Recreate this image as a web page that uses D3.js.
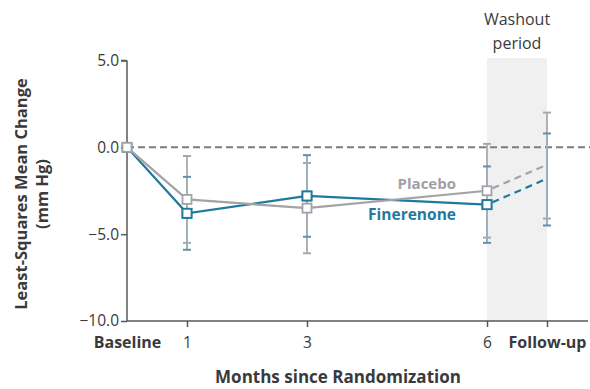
<!DOCTYPE html>
<html><head><meta charset="utf-8">
<script src="https://cdn.jsdelivr.net/npm/d3@7"></script>
<style>body{margin:0;background:#fff}svg{display:block}text{font-family:"Open Sans","Noto Sans",sans-serif}</style>
</head><body>
<script>
const xLabels = ["Baseline","1","3","6","Follow-up"];
const xValues = [0,1,3,6,7];
const yTicks = [5,0,-5,-10];
const placebo = [0,-3.0,-3.5,-2.5,-1.0];
const placeboLow = [null,-5.5,-6.1,-5.2,-4.1];
const placeboHigh = [null,-0.5,-0.9,0.2,2.0];
const finerenone = [0,-3.8,-2.8,-3.3,-1.8];
const finLow = [null,-5.9,-5.15,-5.5,-4.5];
const finHigh = [null,-1.7,-0.45,-1.1,0.8];
const washout = [6,7];

const W=590,H=389;
const svg=d3.select("body").append("svg").attr("width",W).attr("height",H);
const x=d3.scaleLinear().domain([0,7]).range([127,547]);
const y=d3.scaleLinear().domain([-10,5]).range([321,60.5]);
const grey="#a3a3a7", blue="#1f7a9e", axisC="#58585a", txt="#3a3a3c";

// washout shading
svg.append("rect").attr("x",x(washout[0])).attr("y",58).attr("width",x(washout[1])-x(washout[0])).attr("height",y(-10)-58).attr("fill","#f0f0f1");
svg.append("text").attr("x",(x(6)+x(7))/2).attr("y",25).attr("text-anchor","middle").attr("font-size",16).attr("fill",txt).text("Washout");
svg.append("text").attr("x",(x(6)+x(7))/2).attr("y",49).attr("text-anchor","middle").attr("font-size",16).attr("fill",txt).text("period");

// zero dashed
svg.append("line").attr("x1",x(0)).attr("x2",590).attr("y1",y(0)).attr("y2",y(0)).attr("stroke","#7c7c80").attr("stroke-width",2).attr("stroke-dasharray","7,4");

// axes
const yAxis=svg.append("g").attr("transform",`translate(${x(0)},0)`).call(d3.axisLeft(y).tickValues(yTicks).tickFormat(d=>d3.format(".1f")(d).replace("-","\u2212")).tickSize(6).tickPadding(2));
yAxis.select(".domain").attr("stroke",axisC).attr("stroke-width",1.5).attr("d",`M0,${y(5)}H-6M0,${y(5)}V${y(-10)}`);
yAxis.selectAll(".tick line").attr("stroke",axisC).attr("stroke-width",1.5);
yAxis.selectAll(".tick text").attr("font-size",15.5).attr("fill",txt).attr("font-family","Open Sans");
const xAxis=svg.append("g").attr("transform",`translate(0,${y(-10)})`).call(d3.axisBottom(x).tickValues(xValues).tickFormat((d,i)=>xLabels[i]).tickSize(6).tickPadding(10));
xAxis.select(".domain").attr("stroke",axisC).attr("stroke-width",1.5).attr("d",`M${x(0)},0H588`);
xAxis.selectAll(".tick line").attr("stroke",axisC).attr("stroke-width",1.5);
xAxis.selectAll(".tick text").attr("font-size",(d,i)=>(i===0||i===4)?16:15.5).attr("fill",txt).attr("font-family","Open Sans")
  .attr("font-weight",(d,i)=>(i===0||i===4)?"bold":"normal");
xAxis.selectAll(".tick").filter((d,i)=>i===0).select("line").remove();

svg.append("text").attr("x",338).attr("y",383).attr("text-anchor","middle").attr("font-size",17).attr("font-weight","bold").attr("fill",txt).text("Months since Randomization");
const yt=svg.append("text").attr("transform","translate(27,194) rotate(-90)").attr("text-anchor","middle").attr("font-size",16.5).attr("font-weight","bold").attr("fill",txt);
yt.append("tspan").attr("x",0).attr("dy",0).text("Least-Squares Mean Change");
yt.append("tspan").attr("x",0).attr("dy",21).text("(mm Hg)");

// error bars
function errbars(vals,lo,hi,lineC,capC){
  const g=svg.append("g");
  xValues.forEach((xv,i)=>{
    if(lo[i]==null) return;
    g.append("line").attr("x1",x(xv)).attr("x2",x(xv)).attr("y1",y(lo[i])).attr("y2",y(hi[i])).attr("stroke",lineC).attr("stroke-width",2);
    [lo[i],hi[i]].forEach(v=>g.append("line").attr("x1",x(xv)-4).attr("x2",x(xv)+4).attr("y1",y(v)).attr("y2",y(v)).attr("stroke",capC).attr("stroke-width",2));
  });
}
errbars(placebo,placeboLow,placeboHigh,"#b2b2b6","#a8a8ac");
errbars(finerenone,finLow,finHigh,"#9fb0bb","#5f93ad");

function series(vals,col){
  const pts=xValues.map((xv,i)=>[x(xv),y(vals[i])]);
  svg.append("path").attr("d",d3.line()(pts.slice(0,4))).attr("fill","none").attr("stroke",col).attr("stroke-width",2.2);
  svg.append("path").attr("d",d3.line()(pts.slice(3))).attr("fill","none").attr("stroke",col).attr("stroke-width",2.2).attr("stroke-dasharray","7,5").attr("stroke-dashoffset",-6);
  svg.selectAll(null).data(pts.slice(0,4)).enter().append("rect").attr("x",d=>d[0]-4.5).attr("y",d=>d[1]-4.5).attr("width",9).attr("height",9).attr("fill","#fff").attr("stroke",col).attr("stroke-width",1.8);
}
series(finerenone,blue);
series(placebo,grey);
svg.selectAll(null).data(xValues.slice(1,4).map((xv,i)=>[x(xv),y(finerenone[i+1])])).enter().append("rect").attr("x",d=>d[0]-4.5).attr("y",d=>d[1]-4.5).attr("width",9).attr("height",9).attr("fill","#fff").attr("stroke",blue).attr("stroke-width",1.8);

svg.append("text").attr("x",456).attr("y",189).attr("text-anchor","end").attr("font-size",15).attr("font-weight","bold").attr("fill","#a0a0a4").text("Placebo");
svg.append("text").attr("x",456).attr("y",220).attr("text-anchor","end").attr("font-size",15.5).attr("font-weight","bold").attr("fill",blue).text("Finerenone");
</script>
</body></html>
